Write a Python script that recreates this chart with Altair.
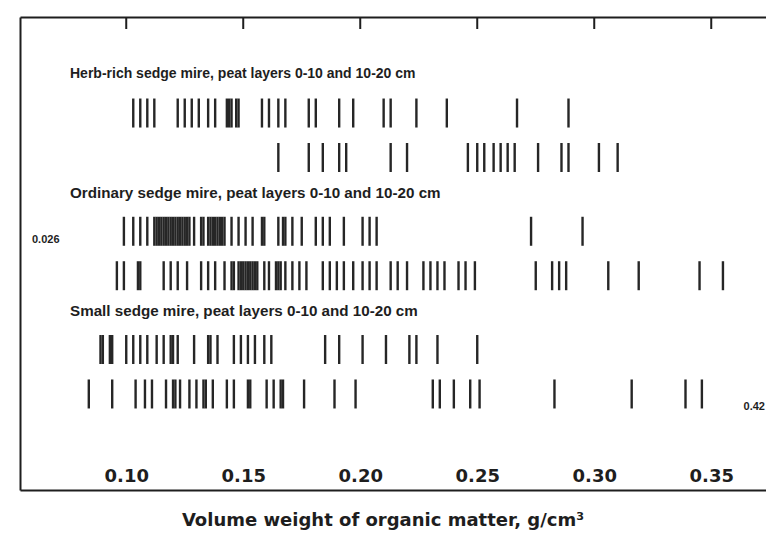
import altair as alt
import pandas as pd

# Mire types (one band each) and the two peat layers drawn inside every band
group_keys = ["herb", "ordinary", "small"]
group_titles = [
    "Herb-rich sedge mire, peat layers 0-10 and 10-20 cm",
    "Ordinary sedge mire, peat layers 0-10 and 10-20 cm",
    "Small sedge mire, peat layers 0-10 and 10-20 cm",
]
layers = ["0-10 cm", "10-20 cm"]

# Volume weight of organic matter (g/cm3), one stroke per sample
herb_0_10 = [0.103, 0.106, 0.109, 0.112, 0.122, 0.125, 0.128, 0.131, 0.135, 0.138,
             0.143, 0.144, 0.145, 0.147, 0.148, 0.158, 0.161, 0.165, 0.168, 0.178,
             0.181, 0.191, 0.197, 0.210, 0.213, 0.224, 0.237, 0.267, 0.289]
herb_10_20 = [0.165, 0.178, 0.184, 0.191, 0.194, 0.213, 0.220, 0.246, 0.250, 0.253,
              0.257, 0.260, 0.263, 0.266, 0.276, 0.286, 0.289, 0.302, 0.310]
ordinary_0_10 = [0.099, 0.103, 0.106, 0.109, 0.112, 0.113, 0.114, 0.115, 0.116, 0.117,
                 0.118, 0.119, 0.120, 0.121, 0.122, 0.123, 0.124, 0.125, 0.126, 0.127,
                 0.129, 0.132, 0.133, 0.135, 0.136, 0.137, 0.138, 0.139, 0.140, 0.141,
                 0.142, 0.145, 0.148, 0.151, 0.154, 0.158, 0.159, 0.165, 0.167, 0.168,
                 0.171, 0.175, 0.181, 0.184, 0.187, 0.193, 0.201, 0.204, 0.207, 0.273,
                 0.295]
ordinary_10_20 = [0.096, 0.099, 0.105, 0.106, 0.116, 0.119, 0.122, 0.126, 0.132, 0.135,
                  0.138, 0.142, 0.145, 0.146, 0.148, 0.149, 0.150, 0.151, 0.152, 0.153,
                  0.154, 0.155, 0.156, 0.159, 0.161, 0.164, 0.165, 0.166, 0.168, 0.171,
                  0.174, 0.177, 0.184, 0.187, 0.190, 0.193, 0.197, 0.201, 0.204, 0.207,
                  0.213, 0.216, 0.220, 0.227, 0.230, 0.233, 0.236, 0.242, 0.245, 0.249,
                  0.275, 0.282, 0.285, 0.288, 0.306, 0.319, 0.345, 0.355]
small_0_10 = [0.089, 0.090, 0.093, 0.094, 0.100, 0.103, 0.106, 0.109, 0.113, 0.116,
              0.119, 0.120, 0.122, 0.129, 0.135, 0.136, 0.139, 0.146, 0.149, 0.152,
              0.155, 0.159, 0.162, 0.185, 0.191, 0.201, 0.211, 0.221, 0.224, 0.233,
              0.250]
small_10_20 = [0.084, 0.094, 0.104, 0.108, 0.111, 0.117, 0.120, 0.121, 0.123, 0.127,
               0.130, 0.133, 0.134, 0.137, 0.143, 0.146, 0.152, 0.153, 0.160, 0.163,
               0.166, 0.167, 0.176, 0.189, 0.198, 0.231, 0.234, 0.240, 0.247, 0.251,
               0.283, 0.316, 0.339, 0.346]

# Extreme values written beside the strips
low_note = "0.026"
high_note = "0.42"

tick_values = [0.10, 0.15, 0.20, 0.25, 0.30, 0.35]
x_domain = [0.0546, 0.3734]
axis_title = "Volume weight of organic matter, g/cm³"

series = {
    ("herb", layers[0]): herb_0_10,
    ("herb", layers[1]): herb_10_20,
    ("ordinary", layers[0]): ordinary_0_10,
    ("ordinary", layers[1]): ordinary_10_20,
    ("small", layers[0]): small_0_10,
    ("small", layers[1]): small_10_20,
}
samples = pd.DataFrame(
    [{"group": g, "layer": l, "value": v} for (g, l), vals in series.items() for v in vals]
)

INK = "#1e1e1e"
W, H = 746, 473

x_scale = alt.Scale(domain=x_domain, nice=False, zero=False)
y_scale = alt.Scale(domain=group_keys, paddingInner=0, paddingOuter=0.5)
offset_scale = alt.Scale(domain=layers, paddingInner=0, paddingOuter=0.33)

strips = alt.Chart(samples).mark_tick(
    color="#262626", thickness=2.4, size=29, opacity=1
).encode(
    x=alt.X(
        "value:Q",
        scale=x_scale,
        axis=alt.Axis(
            orient="bottom", values=tick_values, format=".2f", title=None,
            grid=False, ticks=False, tickSize=0, labelPadding=-23,
            labelFont="DejaVu Sans", labelFontWeight="bold", labelFontSize=18,
            labelColor=INK, labelFlush=False, labelOverlap=False,
            domainColor=INK, domainWidth=2,
        ),
    ),
    y=alt.Y(
        "group:N",
        scale=y_scale,
        axis=alt.Axis(
            orient="left", labels=False, ticks=False, title=None, grid=False,
            domainColor=INK, domainWidth=2,
        ),
    ),
    yOffset=alt.YOffset("layer:N", scale=offset_scale),
)

# Inward ticks hanging from the top frame line
top_ticks = alt.Chart(pd.DataFrame({"tick": tick_values})).mark_rule(
    color=INK, strokeWidth=2
).encode(
    x=alt.X(
        "tick:Q",
        scale=x_scale,
        axis=alt.Axis(
            orient="top", labels=False, ticks=False, title=None, grid=False,
            domainColor=INK, domainWidth=2,
        ),
    ),
    y=alt.value(0),
    y2=alt.value(12),
)

# One heading per mire band, set just above its pair of strips
heading_sizes = [14.0, 15.2, 15.2]
headings = [
    alt.Chart(pd.DataFrame({"group": [key], "title": [text]})).mark_text(
        align="left", baseline="middle", dy=-61,
        font="Liberation Sans", fontWeight="bold", fontSize=size, color=INK,
    ).encode(
        x=alt.value(50),
        y=alt.Y("group:N", scale=y_scale),
        text="title:N",
    )
    for key, text, size in zip(group_keys, group_titles, heading_sizes)
]

low_label = alt.Chart(
    pd.DataFrame({"group": ["ordinary"], "layer": [layers[0]], "note": [low_note]})
).mark_text(
    align="left", baseline="middle", dy=9,
    font="Liberation Sans", fontWeight="bold", fontSize=11, color=INK,
).encode(
    x=alt.value(12),
    y=alt.Y("group:N", scale=y_scale),
    yOffset=alt.YOffset("layer:N", scale=offset_scale),
    text="note:N",
)

high_label = alt.Chart(
    pd.DataFrame({"group": ["small"], "layer": [layers[1]], "note": [high_note]})
).mark_text(
    align="right", baseline="middle", dy=13,
    font="Liberation Sans", fontWeight="bold", fontSize=11, color=INK,
).encode(
    x=alt.value(W - 1),
    y=alt.Y("group:N", scale=y_scale),
    yOffset=alt.YOffset("layer:N", scale=offset_scale),
    text="note:N",
)

x_title = alt.Chart(pd.DataFrame({"t": [axis_title]})).mark_text(
    align="center", baseline="middle",
    font="DejaVu Sans", fontWeight="bold", fontSize=18, color=INK,
).encode(
    x=alt.value(363),
    y=alt.value(504),
    text="t:N",
)

chart = (
    alt.layer(strips, top_ticks, *headings, low_label, high_label, x_title)
    .resolve_axis(x="independent")
    .properties(
        width=W,
        height=H,
        autosize=alt.AutoSizeParams(type="none"),
        padding={"left": 20, "top": 17, "right": 0, "bottom": 43},
        background="white",
    )
    .configure_view(stroke=None)
)

chart.save("out.html", embed_options={"renderer": "svg", "actions": False})
